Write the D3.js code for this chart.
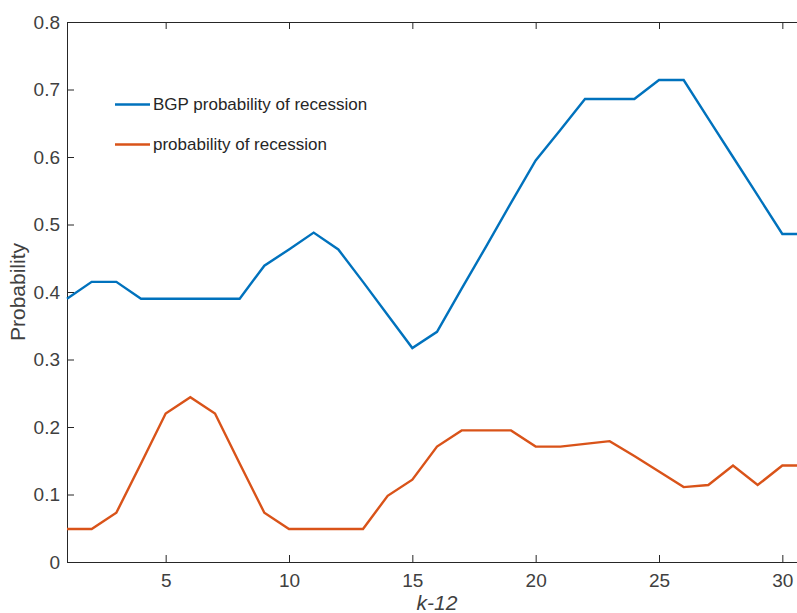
<!DOCTYPE html>
<html>
<head>
<meta charset="utf-8">
<script src="https://cdnjs.cloudflare.com/ajax/libs/d3/7.8.5/d3.min.js"></script>
<style>
  body { margin: 0; background: #fff; }
  svg { display: block; font-family: "Liberation Sans", Arial, sans-serif; }
  .axis path, .axis line { stroke: #262626; }
  .axis text { fill: #404040; font-size: 19px; }
</style>
</head>
<body>
<div id="chart"></div>
<script>
// data
var kValues = [1, 2, 3, 4, 5, 6, 7, 8, 9, 10, 11, 12, 13, 14, 15, 16,
    17, 18, 19, 20, 21, 22, 23, 24, 25, 26, 27, 28, 29, 30, 31];
var bgpProb = [0.390, 0.415, 0.415, 0.390, 0.390, 0.390, 0.390, 0.390, 0.439, 0.463,
    0.488, 0.463, 0.415, 0.366, 0.317, 0.341, 0.405, 0.468, 0.532, 0.595,
    0.640, 0.686, 0.686, 0.686, 0.714, 0.714, 0.657, 0.600, 0.543, 0.486, 0.486];
var recProb = [0.049, 0.049, 0.073, 0.146, 0.220, 0.244, 0.220, 0.146, 0.073, 0.049,
    0.049, 0.049, 0.049, 0.098, 0.122, 0.171, 0.195, 0.195, 0.195, 0.171,
    0.171, 0.175, 0.179, 0.157, 0.134, 0.111, 0.114, 0.143, 0.114, 0.143, 0.143];
var seriesNames = ["BGP probability of recession", "probability of recession"];
var xTicks = [5, 10, 15, 20, 25, 30];
var yTicks = [0, 0.1, 0.2, 0.3, 0.4, 0.5, 0.6, 0.7, 0.8];

var svgWidth = 797;
var svgHeight = 613;
var margin = { top: 22, left: 67 };
var width = 740;
var height = 540;
var colors = ["#0072BD", "#D95319"];

var svg = d3.select("#chart")
    .append("svg")
    .attr("width", svgWidth)
    .attr("height", svgHeight);

var chartGroup = svg.append("g")
    .attr("transform", `translate(${margin.left},${margin.top})`);

var xScale = d3.scaleLinear().domain([1, 31]).range([0, width]);
var yScale = d3.scaleLinear().domain([0, 0.8]).range([height, 0]);

// axes with inward ticks, MATLAB style box
chartGroup.append("g")
    .attr("class", "axis")
    .attr("transform", `translate(0, ${height})`)
    .call(d3.axisBottom(xScale).tickValues(xTicks).tickSizeInner(-7).tickSizeOuter(0).tickPadding(12));

chartGroup.append("g")
    .attr("class", "axis")
    .call(d3.axisTop(xScale).tickValues(xTicks).tickSizeInner(-7).tickSizeOuter(0).tickFormat(""));

chartGroup.append("g")
    .attr("class", "axis")
    .call(d3.axisLeft(yScale).tickValues(yTicks).tickSizeInner(-7).tickSizeOuter(0).tickPadding(7)
        .tickFormat(d3.format("~g")));

chartGroup.append("g")
    .attr("class", "axis")
    .attr("transform", `translate(${width}, 0)`)
    .call(d3.axisRight(yScale).tickValues(yTicks).tickSizeInner(-7).tickSizeOuter(0).tickFormat(""));

chartGroup.selectAll(".axis text").attr("font-size", "19px");

// lines
var series = [bgpProb, recProb];
var line = d3.line()
    .x((d, i) => xScale(kValues[i]))
    .y(d => yScale(d));

chartGroup.selectAll(".series")
    .data(series)
    .enter()
    .append("path")
    .attr("class", "series")
    .attr("d", line)
    .attr("fill", "none")
    .attr("stroke", (d, i) => colors[i])
    .attr("stroke-width", 2.4)
    .attr("stroke-linejoin", "miter");

// legend (no box)
var legend = svg.append("g");
seriesNames.forEach(function(name, i) {
    var y = 104.5 + i * 40;
    legend.append("line")
        .attr("x1", 115).attr("x2", 150)
        .attr("y1", y).attr("y2", y)
        .attr("stroke", colors[i])
        .attr("stroke-width", 2.4);
    legend.append("text")
        .attr("x", 153)
        .attr("y", y)
        .attr("dy", "0.35em")
        .attr("font-size", "17px")
        .attr("fill", "#262626")
        .text(name);
});

// axis labels
svg.append("text")
    .attr("transform", `translate(25, ${margin.top + height / 2}) rotate(-90)`)
    .style("text-anchor", "middle")
    .attr("font-size", "21px")
    .attr("fill", "#404040")
    .text("Probability");

svg.append("text")
    .attr("x", margin.left + width / 2)
    .attr("y", 610)
    .style("text-anchor", "middle")
    .attr("font-size", "21px")
    .attr("font-style", "italic")
    .attr("fill", "#404040")
    .text("k-12");
</script>
</body>
</html>
